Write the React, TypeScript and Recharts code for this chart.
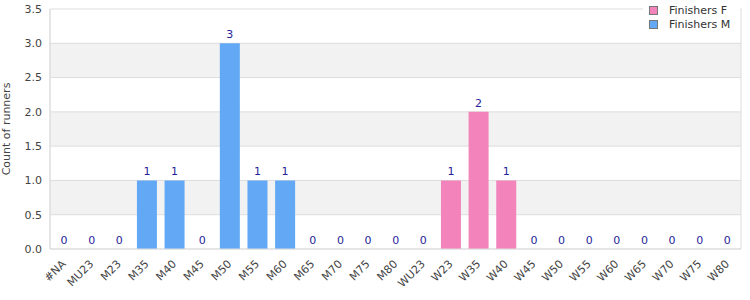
import { BarChart, Bar, XAxis, YAxis, CartesianGrid, LabelList, Cell } from "recharts";

const categories = [
  "#NA", "MU23", "M23", "M35", "M40", "M45", "M50", "M55", "M60", "M65", "M70", "M75", "M80",
  "WU23", "W23", "W35", "W40", "W45", "W50", "W55", "W60", "W65", "W70", "W75", "W80",
];
// which series each category belongs to
const series = ["M", "M", "M", "M", "M", "M", "M", "M", "M", "M", "M", "M", "M", "F", "F", "F", "F", "F", "F", "F", "F", "F", "F", "F", "F"];
const finishersM = [0, 0, 0, 1, 1, 0, 3, 1, 1, 0, 0, 0, 0];
const finishersF = [0, 1, 2, 1, 0, 0, 0, 0, 0, 0, 0, 0];
const yTicks = [0, 0.5, 1, 1.5, 2, 2.5, 3, 3.5];

const counts = [...finishersM, ...finishersF];
const data = categories.map((c, i) => ({ cat: c, series: series[i], count: counts[i] }));

const PINK = "#f383bb";
const BLUE = "#62a8f5";
const font = "DejaVu Sans, sans-serif";

function AngledTick({ x, y, payload }: any) {
  return (
    <g transform={`translate(${x - 3},${y + 2})`}>
      <text textAnchor="end" transform="rotate(-45)" dy={8} fontSize={11} fill="#444" fontFamily={font}>
        {payload.value}
      </text>
    </g>
  );
}

function ValueLabel({ x, y, width, value }: any) {
  if (value === null || value === undefined) return null;
  return (
    <text x={x + width / 2} y={y - 5} textAnchor="middle" fontSize={11} fill="#1f1f99" fontFamily={font}>
      {value}
    </text>
  );
}

function LegendBox() {
  const items = [
    { name: "Finishers F", color: PINK },
    { name: "Finishers M", color: BLUE },
  ];
  return (
    <div
      style={{
        position: "absolute",
        left: 643,
        top: 0,
        width: 97,
        height: 36,
        background: "#fff",
        padding: "3px 0 0 6px",
        boxSizing: "border-box",
        fontFamily: font,
        fontSize: 11,
        color: "#333",
      }}
    >
      {items.map((it) => (
        <div key={it.name} style={{ display: "flex", alignItems: "center", height: 14 }}>
          <span style={{ display: "inline-block", width: 7, height: 7, background: it.color, border: "1px solid #777", marginRight: 11 }} />
          {it.name}
        </div>
      ))}
    </div>
  );
}

export default function App() {
  return (
    <div style={{ position: "absolute", left: 0, top: 0, width: 750, height: 300, background: "#fff" }}>
      <BarChart width={750} height={300} data={data} margin={{ top: 9, right: 9, left: 0, bottom: 0 }} barSize={20}>
        <CartesianGrid
          stroke="#dddddd"
          horizontalFill={["#ffffff", "#f2f2f2"]}
          verticalCoordinatesGenerator={({ offset }: any) => [offset.left, offset.left + offset.width]}
        />
        <XAxis
          dataKey="cat"
          interval={0}
          height={51}
          tick={<AngledTick />}
          tickLine={false}
          axisLine={{ stroke: "#dddddd" }}
        />
        <YAxis
          width={50}
          domain={[0, 3.5]}
          ticks={yTicks}
          tickFormatter={(v: number) => v.toFixed(1)}
          tick={{ fill: "#444", fontSize: 11, fontFamily: font }}
          tickLine={false}
          axisLine={{ stroke: "#dddddd" }}
          label={{ value: "Count of runners", angle: -90, position: "insideLeft", offset: 6, style: { textAnchor: "middle", fill: "#444", fontSize: 11, fontFamily: font } }}
        />
        <Bar dataKey="count" name="Finishers" minPointSize={0.01} isAnimationActive={false}>
          {data.map((d) => (
            <Cell key={d.cat} fill={d.series === "F" ? PINK : BLUE} />
          ))}
          <LabelList dataKey="count" content={<ValueLabel />} />
        </Bar>
      </BarChart>
      <LegendBox />
    </div>
  );
}
